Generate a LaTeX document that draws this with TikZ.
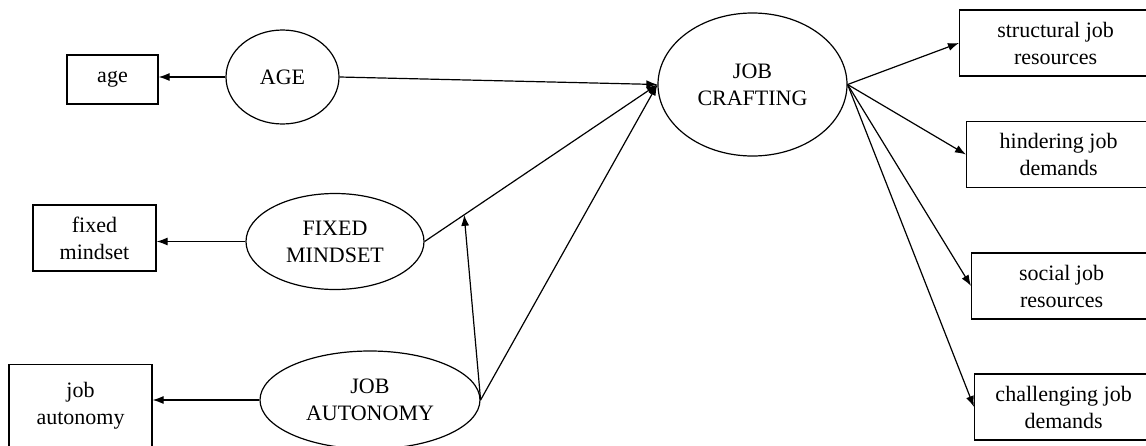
\documentclass[tikz,border=0pt]{standalone}
\usepackage{fontspec}
\setmainfont{Liberation Serif}
\usetikzlibrary{shapes.geometric,arrows.meta}

\begin{document}
\begin{tikzpicture}[x=50pt, y=-50pt,
    font=\fontsize{11}{13.5}\selectfont,
    construct/.style={ellipse, draw, inner sep=0pt, align=center, line width=0.6pt},
    indicator/.style={rectangle, draw, inner sep=0pt, align=center, line width=0.6pt, minimum height=33pt},
    link/.style={-{Latex[length=5.5pt,width=4pt]}, line width=0.6pt}]
    \useasboundingbox (0,0) rectangle (11.46,4.45);

    % latent constructs
    \node[construct, minimum width=56.5pt, minimum height=47pt] (AGE) at (2.825, 0.77) {AGE};
    \node[construct, minimum width=89pt, minimum height=48pt] (FM) at (3.35, 2.415) {FIXED\\MINDSET};
    \node[construct, minimum width=110pt, minimum height=49pt] (JA) at (3.70, 4.00) {JOB\\AUTONOMY};
    \node[construct, minimum width=94.5pt, minimum height=71.5pt] (JC) at (7.525, 0.845) {JOB\\CRAFTING};

    % indicators on the left
    \node[indicator, minimum width=45.5pt, minimum height=24.5pt] (age) at (1.125, 0.795) {age};
    \node[indicator, minimum width=61.5pt] (fm) at (0.945, 2.38) {fixed\\mindset};
    \node[indicator, minimum width=71.5pt, anchor=north, text depth=18pt, inner ysep=9pt] (ja) at (0.805, 3.64) {job\\autonomy};

    % indicators on the right
    \node[indicator, minimum width=96pt, anchor=west] (sjr) at (9.59, 0.43) {structural job\\resources};
    \node[indicator, minimum width=92pt, anchor=west] (hjd) at (9.66, 1.545) {hindering job\\demands};
    \node[indicator, minimum width=90pt, anchor=west] (soc) at (9.71, 2.86) {social job\\resources};
    \node[indicator, minimum width=89pt, anchor=west] (cjd) at (9.74, 4.07) {challenging job\\demands};

    \draw[link] (AGE.west) -- (AGE.west -| age.east);
    \draw[link] (FM.west) -- (FM.west -| fm.east);
    \draw[link] (JA.west) -- (JA.west -| ja.east);

    \draw[link] (AGE.east) -- (JC.west);
    \draw[link] (FM.east) -- (JC.west) coordinate[pos=0.17] (mod);
    \draw[link] (JA.east) -- (JC.west);
    \draw[link] (JA.east) -- (mod);

    \draw[link] (JC.east) -- (sjr.west);
    \draw[link] (JC.east) -- (hjd.west);
    \draw[link] (JC.east) -- (soc.west);
    \draw[link] (JC.east) -- (cjd.west);

\end{tikzpicture}
\end{document}
